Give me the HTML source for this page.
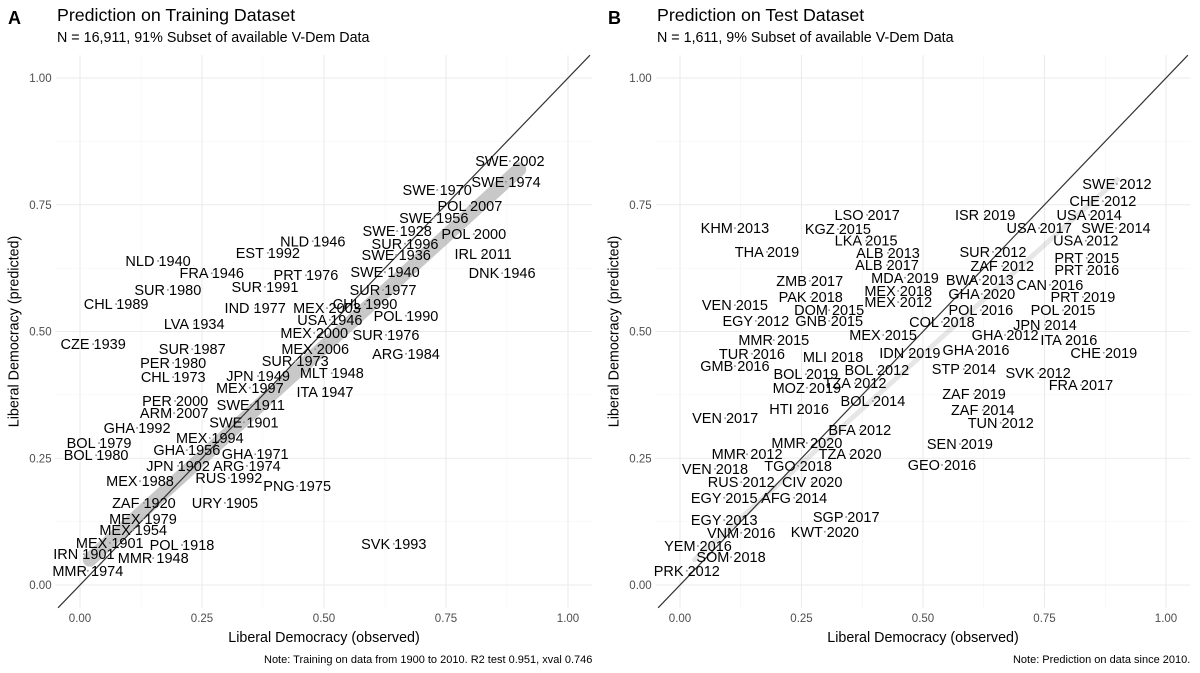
<!DOCTYPE html>
<html><head><meta charset="utf-8">
<style>
body{margin:0;background:#fff;}
svg{display:block;font-family:"Liberation Sans",sans-serif;}
</style></head>
<body>
<svg id="chart" width="1200" height="673" viewBox="0 0 1200 673">
<text x="8" y="24" font-size="18" font-weight="bold" fill="#000">A</text>
<text x="57" y="21" font-size="17.8" fill="#000">Prediction on Training Dataset</text>
<text x="57" y="42" font-size="14.3" fill="#000">N = 16,911, 91% Subset of available V-Dem Data</text>
<text x="608" y="24" font-size="18" font-weight="bold" fill="#000">B</text>
<text x="657" y="21" font-size="17.8" fill="#000">Prediction on Test Dataset</text>
<text x="657" y="42" font-size="14.3" fill="#000">N = 1,611, 9% Subset of available V-Dem Data</text>
<g id="pa"></g>
<g id="pb"></g>
</svg>
<script>
const ticks=[0,0.25,0.5,0.75,1];
const tickLabels=["0.00","0.25","0.50","0.75","1.00"];
const namesA=["SWE 2002","SWE 1974","SWE 1970","POL 2007","SWE 1956","POL 2000","SWE 1928","SUR 1996","NLD 1946","SWE 1936","IRL 2011","EST 1992","NLD 1940","FRA 1946","PRT 1976","SWE 1940","DNK 1946","SUR 1980","SUR 1991","SUR 1977","CHL 1989","IND 1977","MEX 2003","CHL 1990","POL 1990","USA 1946","LVA 1934","MEX 2000","SUR 1976","CZE 1939","SUR 1987","MEX 2006","ARG 1984","PER 1980","SUR 1973","CHL 1973","JPN 1949","MLT 1948","MEX 1997","ITA 1947","PER 2000","ARM 2007","SWE 1911","SWE 1901","GHA 1992","MEX 1994","BOL 1979","GHA 1956","GHA 1971","BOL 1980","JPN 1902","ARG 1974","RUS 1992","MEX 1988","PNG 1975","ZAF 1920","URY 1905","SVK 1993","MEX 1979","MEX 1954","MEX 1901","POL 1918","IRN 1901","MMR 1948","MMR 1974"];
const obsA=[.881,.873,.732,.799,.725,.807,.650,.666,.477,.648,.826,.385,.160,.270,.463,.625,.865,.180,.379,.621,.074,.359,.506,.584,.668,.512,.234,.480,.627,.027,.230,.482,.668,.191,.441,.191,.365,.516,.348,.502,.195,.193,.350,.336,.117,.266,.039,.219,.359,.033,.201,.342,.305,.123,.445,.131,.297,.643,.129,.109,.061,.209,.008,.150,.016];
const predA=[.836,.795,.779,.748,.724,.692,.698,.673,.678,.651,.653,.655,.639,.615,.611,.617,.615,.582,.588,.582,.554,.546,.546,.554,.531,.523,.515,.497,.493,.475,.465,.465,.456,.438,.442,.410,.412,.418,.389,.381,.363,.339,.355,.321,.310,.290,.280,.266,.258,.256,.235,.235,.211,.205,.195,.162,.162,.081,.130,.108,.083,.079,.061,.053,.028];
const namesB=["SWE 2012","CHE 2012","USA 2014","ISR 2019","LSO 2017","KHM 2013","KGZ 2015","USA 2017","SWE 2014","LKA 2015","USA 2012","SUR 2012","THA 2019","ALB 2013","PRT 2015","ALB 2017","ZAF 2012","PRT 2016","ZMB 2017","MDA 2019","BWA 2013","CAN 2016","MEX 2018","GHA 2020","PAK 2018","PRT 2019","VEN 2015","MEX 2012","DOM 2015","POL 2016","POL 2015","EGY 2012","GNB 2015","COL 2018","JPN 2014","MMR 2015","MEX 2015","GHA 2012","ITA 2016","TUR 2016","IDN 2019","GHA 2016","CHE 2019","GMB 2016","MLI 2018","BOL 2012","STP 2014","SVK 2012","BOL 2019","TZA 2012","MOZ 2019","FRA 2017","ZAF 2019","BOL 2014","HTI 2016","ZAF 2014","VEN 2017","TUN 2012","BFA 2012","SEN 2019","MMR 2020","MMR 2012","TZA 2020","GEO 2016","VEN 2018","TGO 2018","RUS 2012","CIV 2020","EGY 2015","AFG 2014","SGP 2017","EGY 2013","VNM 2016","KWT 2020","YEM 2016","SOM 2018","PRK 2012"];
const obsB=[.899,.870,.842,.628,.385,.113,.325,.739,.897,.383,.835,.644,.179,.428,.837,.426,.663,.837,.267,.463,.617,.761,.449,.621,.269,.829,.113,.449,.307,.619,.788,.156,.307,.539,.751,.193,.418,.669,.800,.148,.473,.609,.872,.113,.315,.405,.584,.737,.259,.360,.261,.825,.605,.397,.245,.623,.093,.660,.370,.576,.261,.138,.350,.539,.072,.243,.126,.272,.091,.235,.342,.091,.126,.298,.037,.105,.014];
const predB=[.791,.757,.730,.730,.730,.704,.702,.704,.704,.679,.679,.657,.657,.655,.645,.631,.629,.621,.600,.606,.602,.592,.580,.574,.568,.568,.552,.558,.542,.542,.542,.521,.521,.519,.513,.483,.493,.493,.483,.456,.458,.464,.458,.432,.450,.424,.426,.418,.416,.398,.389,.394,.377,.363,.347,.345,.329,.320,.306,.278,.280,.258,.258,.237,.229,.235,.203,.203,.172,.172,.134,.128,.103,.105,.077,.055,.028];
const bandObsA=[0.02,0.9], bandPredA=[0.05,0.82];
const bandObsB=[0.03,0.9], bandPredB=[0.05,0.8];

const NS="http://www.w3.org/2000/svg";
function mk(tag,attrs,parent){const e=document.createElementNS(NS,tag);for(const k in attrs)e.setAttribute(k,attrs[k]);parent.appendChild(e);return e;}

function panel(g,x0,px,note,names,obs,pred,bObs,bPred,key){
  const y0=585, py=507;
  const X=v=>x0+v*px, Y=v=>y0-v*py;
  const L=X(-0.05), R=X(1.05), T=Y(1.045), B=Y(-0.045);
  for(let i=-0.125;i<=1.13;i+=0.25){
    if(X(i)>=L&&X(i)<=R){const l=mk('line',{x1:X(i),x2:X(i),y1:T,y2:B,stroke:'#f3f3f3','stroke-width':0.6},g);
    }
    if(Y(i)>=T&&Y(i)<=B){const l=mk('line',{x1:L,x2:R,y1:Y(i),y2:Y(i),stroke:'#f3f3f3','stroke-width':0.6},g);
    }
  }
  ticks.forEach((t,i)=>{
    const a=mk('line',{x1:X(t),x2:X(t),y1:T,y2:B,stroke:'#ebebeb','stroke-width':1.1},g);
    
    const b=mk('line',{x1:L,x2:R,y1:Y(t),y2:Y(t),stroke:'#ebebeb','stroke-width':1.1},g);
    
    const tx=mk('text',{x:X(t),y:B+14,'font-size':11.5,fill:'#4d4d4d','text-anchor':'middle'},g);tx.textContent=tickLabels[i];
    
    const ty=mk('text',{x:L-4,y:Y(t)+4,'font-size':11.5,fill:'#4d4d4d','text-anchor':'end'},g);ty.textContent=tickLabels[i];
    
  });
  const band=mk('line',{x1:X(bObs[0]),y1:Y(bPred[0]),x2:X(bObs[1]),y2:Y(bPred[1]),stroke:'#9a9a9a','stroke-width':key==='a'?14:5,'stroke-opacity':key==='a'?0.55:0.25,'stroke-linecap':'round'},g);
  
  const lo=-0.045, hi=1.045;
  const d=mk('line',{x1:X(lo),y1:Y(lo),x2:X(hi),y2:Y(hi),stroke:'#333','stroke-width':1.2},g);
  
  names.forEach((n,i)=>{
    const c=mk('circle',{cx:X(obs[i]),cy:Y(pred[i]),r:1,fill:'#999'},g);
    
    const t=mk('text',{x:X(obs[i]),y:Y(pred[i])+5,'font-size':14.5,fill:'#000','text-anchor':'middle'},g);
    t.textContent=n;
    
  });
  const xt=mk('text',{x:(L+R)/2,y:642,'font-size':14.3,fill:'#000','text-anchor':'middle'},g);xt.textContent='Liberal Democracy (observed)';
  
  const yt=mk('text',{x:0,y:0,'font-size':14.3,fill:'#000','text-anchor':'middle',transform:`translate(${L-37},${(T+B)/2}) rotate(-90)`},g);yt.textContent='Liberal Democracy (predicted)';
  
  const nt=mk('text',{x:R,y:663,'font-size':11,fill:'#000','text-anchor':'end'},g);nt.textContent=note;
  
}
panel(document.getElementById('pa'),80,488,'Note: Training on data from 1900 to 2010. R2 test 0.951, xval 0.746',namesA,obsA,predA,bandObsA,bandPredA,'a');
panel(document.getElementById('pb'),680,486,'Note: Prediction on data since 2010.',namesB,obsB,predB,bandObsB,bandPredB,'b');
</script>
</body></html>
